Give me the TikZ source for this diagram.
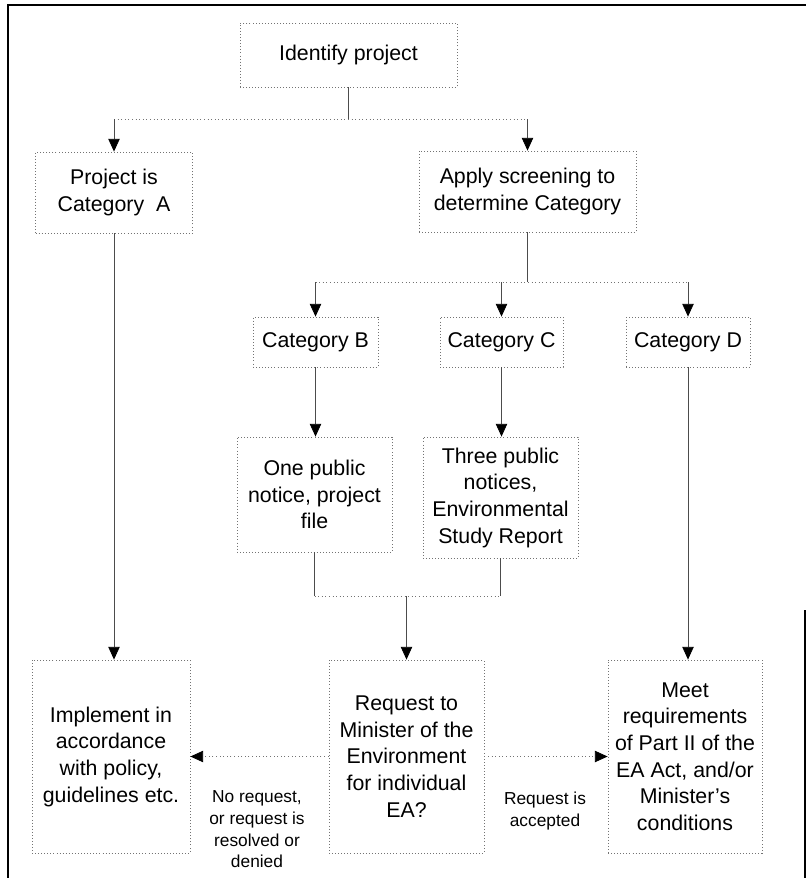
\documentclass[tikz,border=0pt]{standalone}
\usepackage{fontspec}
\setmainfont{Liberation Sans}
\usetikzlibrary{arrows.meta}
\begin{document}
\begin{tikzpicture}[x=0.75pt,y=-0.75pt,
  box/.style={draw=black!55, dash pattern=on 0.7pt off 1.6pt, line width=0.6pt,
    align=center, inner sep=2pt, font=\fontsize{16}{20}\selectfont},
  lbl/.style={align=center, font=\fontsize{13}{16.3}\selectfont},
  conn/.style={draw=black!70, line width=0.6pt},
  bus/.style={draw=black!55, dash pattern=on 0.7pt off 2pt, line width=0.6pt},
  tip/.style={-{Triangle[length=9.5pt,width=8.5pt,color=black,fill=black]}},
  frame/.style={line width=2.2pt, draw=black}]
\useasboundingbox (0,0) rectangle (806,878);
% outer frame
\draw[frame] (8,878) -- (8,5) -- (806,5);
\draw[line width=1.5pt] (805,610) -- (805,878);

% nodes
\node[box, minimum width=217*0.75pt, minimum height=64*0.75pt] (idp) at (348.5,55) {Identify project};
\node[box, minimum width=157*0.75pt, minimum height=81*0.75pt] (catA) at (114,192.5) {Project is\\Category\ \ A};
\node[box, minimum width=217*0.75pt, minimum height=81*0.75pt] (apply) at (527.5,191.5) {Apply screening to\\determine Category};
\node[box, minimum width=125*0.75pt, minimum height=50*0.75pt] (catB) at (315.5,342) {Category B};
\node[box, minimum width=123*0.75pt, minimum height=50*0.75pt] (catC) at (501.5,342) {Category C};
\node[box, minimum width=124*0.75pt, minimum height=50*0.75pt] (catD) at (688,342) {Category D};
\node[box, minimum width=155*0.75pt, minimum height=115*0.75pt] (one) at (314.5,494.5) {One public\\notice, project\\file};
\node[box, minimum width=155*0.75pt, minimum height=121*0.75pt] (three) at (500.5,497.5) {Three public\\notices,\\Environmental\\Study Report};
\node[box, minimum width=158*0.75pt, minimum height=193*0.75pt] (impl) at (111,756.5) {Implement in\\accordance\\with policy,\\guidelines etc.};
\node[box, minimum width=155*0.75pt, minimum height=193*0.75pt] (req) at (406.5,756.5) {Request to\\Minister of the\\Environment\\for individual\\EA?};
\node[box, minimum width=154*0.75pt, minimum height=193*0.75pt] (meet) at (685,756.5) {Meet\\requirements\\of Part II of the\\EA Act, and/or\\Minister's\\conditions};

\node[lbl] (lno) at (257,829.5) {No request,\\or request is\\resolved or\\denied};
\node[lbl] (lyes) at (545,811) {Request is\\accepted};

% bus 1
\coordinate (b1) at (348.5,119);
\draw[conn] (idp.south) -- (b1);
\draw[bus] (catA.north |- b1) -- (apply.north |- b1);
\draw[conn,tip] (catA.north |- b1) -- (catA.north);
\draw[conn,tip] (apply.north |- b1) -- (apply.north);

% bus 2
\coordinate (b2) at (527.5,282);
\draw[conn] (apply.south) -- (b2);
\draw[bus] (catB.north |- b2) -- (catD.north |- b2);
\draw[conn,tip] (catB.north |- b2) -- (catB.north);
\draw[conn,tip] (catC.north |- b2) -- (catC.north);
\draw[conn,tip] (catD.north |- b2) -- (catD.north);

% category to next
\draw[conn,tip] (catA.south) -- (catA.south |- impl.north);
\draw[conn,tip] (catB.south) -- (catB.south |- one.north);
\draw[conn,tip] (catC.south) -- (catC.south |- three.north);
\draw[conn,tip] (catD.south) -- (catD.south |- meet.north);

% bus 3
\coordinate (b3) at (406.5,596);
\draw[conn] (one.south) -- (one.south |- b3);
\draw[conn] (three.south) -- (three.south |- b3);
\draw[bus] (one.south |- b3) -- (three.south |- b3);
\draw[conn,tip] (b3) -- (req.north);

% side arrows
\draw[bus,tip] (req.west) -- (impl.east);
\draw[bus,tip] (req.east) -- (meet.west);
\end{tikzpicture}
\end{document}
